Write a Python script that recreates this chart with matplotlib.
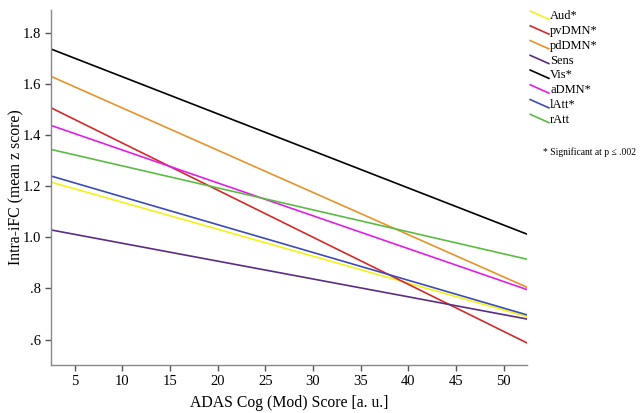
import matplotlib.pyplot as plt
from matplotlib.legend_handler import HandlerLine2D
from matplotlib.lines import Line2D
from matplotlib.ticker import FuncFormatter

plt.rcParams['font.family'] = ['Liberation Serif', 'DejaVu Serif']

# fitted regression lines, evaluated at both ends of the x range
x_ends = [2.5, 52.5]
names = ['Aud*', 'pvDMN*', 'pdDMN*', 'Sens', 'Vis*', 'aDMN*', 'lAtt*', 'rAtt']
y_start = [1.216, 1.507, 1.630, 1.029, 1.737, 1.438, 1.240, 1.344]
y_end = [0.689, 0.586, 0.804, 0.680, 1.012, 0.795, 0.696, 0.914]
colors = ['#f2f21a', '#d42a2a', '#e8922a', '#5a2d82', '#000000', '#e21ee6', '#3c4cb4', '#5cbb44']


class DiagHandler(HandlerLine2D):
    # SPSS style legend swatch: short falling diagonal
    def create_artists(self, legend, orig_handle, xdescent, ydescent,
                       width, height, fontsize, trans):
        ln = Line2D([0, width], [height * 0.95, 0.0],
                    color=orig_handle.get_color(), lw=1.2)
        ln.set_transform(trans)
        return [ln]


fig = plt.figure(figsize=(6.42, 4.13), dpi=100)
ax = fig.add_axes([0.0794, 0.116, 0.742, 0.860])

handles = []
for n, s, e, c in zip(names, y_start, y_end, colors):
    h, = ax.plot(x_ends, [s, e], color=c, lw=1.2, label=n)
    handles.append(h)

ax.set_xlim(2.5, 52.5)
ax.set_ylim(0.5, 1.89)
ax.set_xticks(range(5, 55, 5))
ax.set_yticks([0.6, 0.8, 1.0, 1.2, 1.4, 1.6, 1.8])
ax.yaxis.set_major_formatter(FuncFormatter(
    lambda v, p: ('%.1f' % v) if v >= 1 else ('%.1f' % v)[1:]))

for side in ['top', 'right']:
    ax.spines[side].set_visible(False)
for side in ['left', 'bottom']:
    ax.spines[side].set_color('#888888')
    ax.spines[side].set_linewidth(1.0)
ax.tick_params(direction='out', length=4, width=1, color='#555555',
               labelsize=10.5, pad=3)

ax.set_xlabel('ADAS Cog (Mod) Score [a. u.]', fontsize=11.3, labelpad=5)
ax.set_ylabel('Intra-iFC (mean z score)', fontsize=11.3, labelpad=-1)

leg = fig.legend(handles=handles, handler_map={Line2D: DiagHandler()},
                 loc='upper left', bbox_to_anchor=(0.818, 0.987),
                 frameon=False, fontsize=9, handlelength=1.5,
                 handletextpad=0.1, labelspacing=0.22, borderaxespad=0)

fig.text(0.846, 0.632, '* Significant at p \u2264 .002', fontsize=6.9,
         ha='left', va='center')

fig.savefig('out.png', dpi=100)
